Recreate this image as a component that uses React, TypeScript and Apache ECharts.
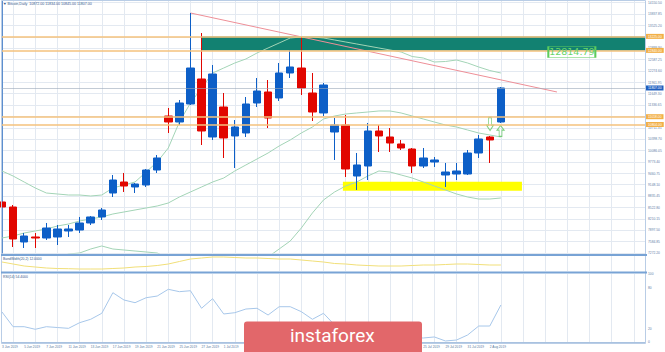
import React, { useEffect, useRef } from 'react';
import * as echarts from 'echarts';

const dates = [
  '3 Jun 2019', '4 Jun 2019', '5 Jun 2019', '6 Jun 2019', '7 Jun 2019', '10 Jun 2019', '11 Jun 2019', '12 Jun 2019',
  '13 Jun 2019', '14 Jun 2019', '17 Jun 2019', '18 Jun 2019', '19 Jun 2019', '20 Jun 2019', '21 Jun 2019', '24 Jun 2019',
  '25 Jun 2019', '26 Jun 2019', '27 Jun 2019', '28 Jun 2019', '1 Jul 2019', '2 Jul 2019', '3 Jul 2019', '4 Jul 2019',
  '5 Jul 2019', '8 Jul 2019', '9 Jul 2019', '10 Jul 2019', '11 Jul 2019', '12 Jul 2019', '15 Jul 2019', '16 Jul 2019',
  '17 Jul 2019', '18 Jul 2019', '19 Jul 2019', '22 Jul 2019', '23 Jul 2019', '24 Jul 2019', '25 Jul 2019', '26 Jul 2019',
  '29 Jul 2019', '30 Jul 2019', '31 Jul 2019', '1 Aug 2019', '2 Aug 2019', '5 Aug 2019', '6 Aug 2019', '7 Aug 2019',
  '8 Aug 2019', '9 Aug 2019', '12 Aug 2019', '13 Aug 2019', '14 Aug 2019', '15 Aug 2019', '16 Aug 2019', '19 Aug 2019',
  '20 Aug 2019', '21 Aug 2019', '22 Aug 2019',
];

const opens = [8674, 8536, 7575, 7712, 7684, 7712, 7877, 7904, 8097, 8262, 8921, 9223, 9086, 9141, 9553, 11037, 10872, 11367, 12054, 10460, 11284, 10488, 10570, 11394, 11697, 11532, 12219, 12356, 11669, 11120, 10597, 10790, 9388, 9663, 10625, 10460, 10268, 10130, 9663, 9773, 9416, 9443, 9443, 10020, 10460, 10872];
const closes = [8536, 7657, 7739, 7684, 7959, 7932, 7932, 8097, 8262, 8454, 9278, 9113, 9168, 9553, 9883, 10872, 11394, 12356, 10625, 12191, 10433, 10735, 11367, 11724, 10982, 12219, 12384, 11807, 11147, 11889, 10790, 9581, 9691, 10625, 10488, 10295, 10158, 9663, 9883, 9828, 9498, 9526, 10020, 10405, 10378, 11807];
const lows = [8262, 7437, 7410, 7410, 7630, 7492, 7712, 7822, 8042, 8179, 8811, 8949, 8921, 9086, 9471, 10570, 10790, 11339, 10240, 10378, 9883, 9608, 10460, 11284, 10707, 11449, 12081, 11614, 10900, 11037, 9828, 9361, 9004, 9278, 10048, 10048, 10103, 9471, 9608, 9636, 9086, 9278, 9416, 9883, 9746, 10845];
const highs = [8729, 8591, 7822, 7822, 8097, 8042, 8042, 8262, 8289, 8509, 9416, 9471, 9196, 9581, 9965, 11257, 11477, 13868, 13318, 12439, 11669, 10927, 11559, 12081, 12026, 12494, 12851, 13208, 12219, 11944, 10982, 11065, 10020, 10845, 10790, 10707, 10378, 10158, 10158, 9910, 9746, 9746, 10103, 10515, 10488, 11834];

const upperBand = [9526, 9388, 9223, 9059, 8921, 8894, 8866, 8866, 8839, 8866, 9059, 9141, 9223, 9498, 9773, 10158, 10872, 11394, 11807, 12219, 12356, 12494, 12604, 12768, 12906, 13043, 13181, 13208, 13208, 13181, 13126, 13071, 13016, 12961, 12906, 12851, 12796, 12672, 12631, 12521, 12535, 12576, 12494, 12384, 12287, 12219];
const middleBand = [7685, 7739, 7822, 7877, 7932, 8014, 8069, 8152, 8207, 8262, 8344, 8399, 8454, 8509, 8564, 8646, 8811, 8949, 9086, 9223, 9333, 9526, 9691, 9855, 10020, 10213, 10378, 10570, 10735, 10955, 11037, 11092, 11120, 11147, 11175, 11175, 11120, 11037, 10955, 10872, 10790, 10735, 10652, 10570, 10515, 10460];
const lowerBand = [5843, 6091, 6420, 6695, 6942, 7135, 7245, 7272, 7382, 7465, 7382, 7355, 7327, 7300, 7272, 7135, 6750, 6503, 6365, 6228, 6310, 6558, 6778, 6942, 7162, 7382, 7602, 7959, 8372, 8729, 8949, 9113, 9223, 9388, 9526, 9498, 9416, 9333, 9223, 9113, 9004, 8894, 8811, 8756, 8756, 8784];

const bandWidth = [18, 14, 10, 8, 6, 5, 4.6, 4, 4, 4, 5, 6, 8, 9, 11, 14, 19, 24, 26, 28, 28, 27, 26, 26, 25, 24, 24, 22, 20, 18, 15, 14, 12, 11, 10, 10, 10, 11, 12, 12, 13, 14, 14, 13, 12, 12];
const rsi = [44.1, 22.5, 22.5, 18.7, 22.5, 21.3, 20.1, 28.4, 33.4, 42.2, 72.5, 61.8, 57.8, 65.1, 67.6, 77.5, 74.0, 75.4, 49.6, 63.7, 41.2, 43.1, 48.5, 49.6, 39.7, 51.9, 51.9, 44.6, 33.4, 42.2, 25, 8, 12, 20, 15, 10, 7, 6, 5.9, 7.4, 1.5, 2.9, 10.3, 23.5, 23.5, 54.4];

const priceTicks = [14150.5, 13837.85, 13525.2, 13212.55, 12899.9, 12587.25, 12274.6, 11961.95, 11649.3, 11336.65, 11024.0, 10711.35, 10398.7, 10086.05, 9773.4, 9460.75, 9148.1, 8835.45, 8522.8, 8210.15, 7897.5, 7584.85, 7272.2];
const rsiTicks = [0, 20, 80, 100];

const resistanceZone = [12840, 13225];
const resistanceZoneX = [17.95, 58];
const supportLevels = [11018, 10804];
const supportZone = [8984, 9232];
const supportZoneX = [30.75, 46.9];
const trendEndX = 50.06;
const trendEndValue = 11697;
const targetText = '12814.79';
const targetPoint = [51.4, 12796];
const arrowPoints = [[44.02, 10817], [44.97, 10625]];

export default function App() {
  const ref = useRef<HTMLDivElement>(null);
  useEffect(() => {
    const chart = echarts.init(ref.current!, null, { renderer: 'svg' });
    const up = '#0d5fc7';
    const down = '#e10600';
    const gridColor = '#e3e9f1';
    const axisBlue = '#5d8fcf';
    const orange = '#f5c27c';
    const last = opens.length - 1;
    const candleData = opens.map((o, i) => [o, closes[i], lows[i], highs[i]]);
    // labels hidden by the watermark in the reference are not drawn
    const labelShown = (i: number) => i % 2 === 0 && (i <= 20 || (i >= 38 && i <= 44));
    const catAxis = (gi: number, showLabels: boolean) => ({
      type: 'category',
      gridIndex: gi,
      data: dates,
      boundaryGap: false,
      axisLine: { show: showLabels, lineStyle: { color: '#a9c2e0' } },
      axisTick: { show: false },
      axisLabel: {
        show: showLabels,
        interval: labelShown,
        align: 'left',
        fontSize: 3.2,
        color: '#5577a0',
        margin: 3,
      },
      splitLine: { show: true, interval: (i: number) => i % 2 === 1, lineStyle: { color: gridColor, width: 1 } },
    });
    const arrowUp = 'path://M5,0 L10,5 L7,5 L7,12 L3,12 L3,5 L0,5 Z';
    const orangeLabel = {
      show: true,
      position: 'end',
      distance: 1,
      backgroundColor: '#f2b048',
      color: '#ffffff',
      fontSize: 3.3,
      padding: [1, 2],
      formatter: (p: any) => Number(p.value).toFixed(2),
    };
    chart.setOption({
      animation: false,
      backgroundColor: '#ffffff',
      textStyle: { fontFamily: 'Liberation Sans' },
      grid: [
        { left: 2, top: 1, width: 643, height: 252, containLabel: false, outerBoundsMode: 'none' },
        { left: 2, top: 256, width: 643, height: 15, containLabel: false, outerBoundsMode: 'none' },
        { left: 2, top: 274, width: 643, height: 68, containLabel: false, outerBoundsMode: 'none' },
      ],
      xAxis: [
        catAxis(0, false),
        catAxis(1, false),
        catAxis(2, true),
        { type: 'value', gridIndex: 0, min: 0, max: 58, show: false },
      ],
      yAxis: [
        {
          type: 'value', gridIndex: 0, position: 'right', min: 7272.2, max: 14197.4,
          axisLine: { show: true, lineStyle: { color: axisBlue } },
          axisTick: { show: false, customValues: priceTicks },
          axisLabel: { customValues: priceTicks, fontSize: 3.3, color: '#6580a8', margin: 3, formatter: (v: number) => v.toFixed(2) },
          splitLine: { show: true, lineStyle: { color: gridColor, width: 1 } },
        },
        {
          type: 'value', gridIndex: 1, position: 'right', min: 0, max: 30,
          axisLine: { show: true, lineStyle: { color: axisBlue } },
          axisTick: { show: false }, axisLabel: { show: false }, splitLine: { show: false },
        },
        {
          type: 'value', gridIndex: 2, position: 'right', min: 0, max: 100,
          axisLine: { show: true, lineStyle: { color: axisBlue } },
          axisTick: { show: false, customValues: rsiTicks },
          axisLabel: { customValues: rsiTicks, fontSize: 3.3, color: '#6580a8', margin: 3 },
          splitLine: { show: false },
        },
      ],
      series: [
        {
          type: 'line', xAxisIndex: 3, yAxisIndex: 0, z: 2, silent: true,
          data: [[17, highs[17]], [trendEndX, trendEndValue]],
          symbol: 'none', lineStyle: { color: '#ee8f97', width: 1 },
          markArea: {
            silent: true,
            data: [
              [{ xAxis: resistanceZoneX[0], yAxis: resistanceZone[1], itemStyle: { color: '#128171' } }, { xAxis: resistanceZoneX[1], yAxis: resistanceZone[0] }],
              [{ xAxis: supportZoneX[0], yAxis: supportZone[1], itemStyle: { color: '#ffff00' } }, { xAxis: supportZoneX[1], yAxis: supportZone[0] }],
            ],
          },
          markLine: {
            silent: true,
            symbol: ['none', 'none'],
            data: [
              { yAxis: resistanceZone[1], lineStyle: { color: orange, width: 1.6, type: 'solid' }, label: orangeLabel },
              { yAxis: resistanceZone[0], lineStyle: { color: orange, width: 1.6, type: 'solid' }, label: orangeLabel },
              { yAxis: supportLevels[0], lineStyle: { color: orange, width: 1.6, type: 'solid' }, label: orangeLabel },
              { yAxis: supportLevels[1], lineStyle: { color: orange, width: 1.6, type: 'solid' }, label: orangeLabel },
              {
                yAxis: closes[last], lineStyle: { color: '#9aa8b8', width: 0.6, type: 'solid' },
                label: { ...orangeLabel, backgroundColor: '#1f5fbf' },
              },
            ],
          },
          markPoint: {
            silent: true,
            data: [{
              coord: targetPoint, symbol: 'rect', symbolSize: [47, 11],
              itemStyle: { color: 'rgba(0,0,0,0)', borderColor: '#5ccc5c', borderWidth: 1 },
              label: { show: true, position: 'inside', formatter: targetText, color: '#6ad46a', fontSize: 9.5, fontFamily: 'DejaVu Sans' },
            }],
          },
        },
        { type: 'line', xAxisIndex: 0, yAxisIndex: 0, data: upperBand, symbol: 'none', silent: true, z: 2, lineStyle: { color: '#a3d4b6', width: 1 } },
        { type: 'line', xAxisIndex: 0, yAxisIndex: 0, data: middleBand, symbol: 'none', silent: true, z: 2, lineStyle: { color: '#a3d4b6', width: 1 } },
        { type: 'line', xAxisIndex: 0, yAxisIndex: 0, data: lowerBand, symbol: 'none', silent: true, z: 2, lineStyle: { color: '#a3d4b6', width: 1 } },
        {
          type: 'candlestick', xAxisIndex: 0, yAxisIndex: 0, data: candleData, barWidth: 8, clip: true, z: 3,
          itemStyle: { color: up, color0: down, borderColor: up, borderColor0: down, borderWidth: 1 },
        },
        {
          type: 'scatter', xAxisIndex: 3, yAxisIndex: 0, z: 4, silent: true,
          data: [
            { value: arrowPoints[0], symbol: arrowUp, symbolRotate: 180, symbolSize: [7, 13] },
            { value: arrowPoints[1], symbol: arrowUp, symbolSize: [7, 11] },
          ],
          itemStyle: { color: 'rgba(255,255,255,0)', borderColor: '#5cc45c', borderWidth: 1 },
        },
        { type: 'line', xAxisIndex: 1, yAxisIndex: 1, data: bandWidth, symbol: 'none', silent: true, lineStyle: { color: '#f1df78', width: 1 } },
        { type: 'line', xAxisIndex: 2, yAxisIndex: 2, data: rsi, symbol: 'none', silent: true, lineStyle: { color: '#a7c7ea', width: 1 } },
      ],
      graphic: [
        { type: 'rect', z: 50, silent: true, shape: { x: 1.5, y: 0.5, width: 644, height: 343 }, style: { fill: 'none', stroke: '#b9cde6', lineWidth: 1 } },
        { type: 'rect', z: 50, silent: true, shape: { x: 1, y: 254, width: 646, height: 2 }, style: { fill: '#78a3d5' } },
        { type: 'rect', z: 50, silent: true, shape: { x: 1, y: 271.5, width: 646, height: 2 }, style: { fill: '#78a3d5' } },
        {
          type: 'text', z: 50, x: 3, y: 2,
          style: { text: `\u25BC Bitcoin,Daily  ${opens[last].toFixed(2)} ${highs[last].toFixed(2)} ${lows[last].toFixed(2)} ${closes[last].toFixed(2)}`, fontSize: 3.6, fill: '#34588a', fontFamily: 'Liberation Sans' },
        },
        { type: 'text', z: 50, x: 3, y: 257.5, style: { text: `BandWidth(20,2) ${bandWidth[last].toFixed(4)}`, fontSize: 3.4, fill: '#34588a', fontFamily: 'Liberation Sans' } },
        { type: 'text', z: 50, x: 3, y: 275, style: { text: `RSI(14) ${rsi[last].toFixed(4)}`, fontSize: 3.4, fill: '#34588a', fontFamily: 'Liberation Sans' } },
        { type: 'rect', z: 100, silent: true, shape: { x: 244, y: 321.5, width: 178, height: 31, r: [3, 3, 0, 0] }, style: { fill: '#e2676a' } },
        { type: 'text', z: 101, x: 290, y: 335, style: { text: 'instaforex', fill: '#ffffff', font: '19px Roboto', verticalAlign: 'middle', align: 'left' } },
      ],
    });
    return () => chart.dispose();
  }, []);
  return <div ref={ref} style={{ position: 'fixed', left: 0, top: 0, width: 665, height: 352, background: '#fff' }} />;
}
